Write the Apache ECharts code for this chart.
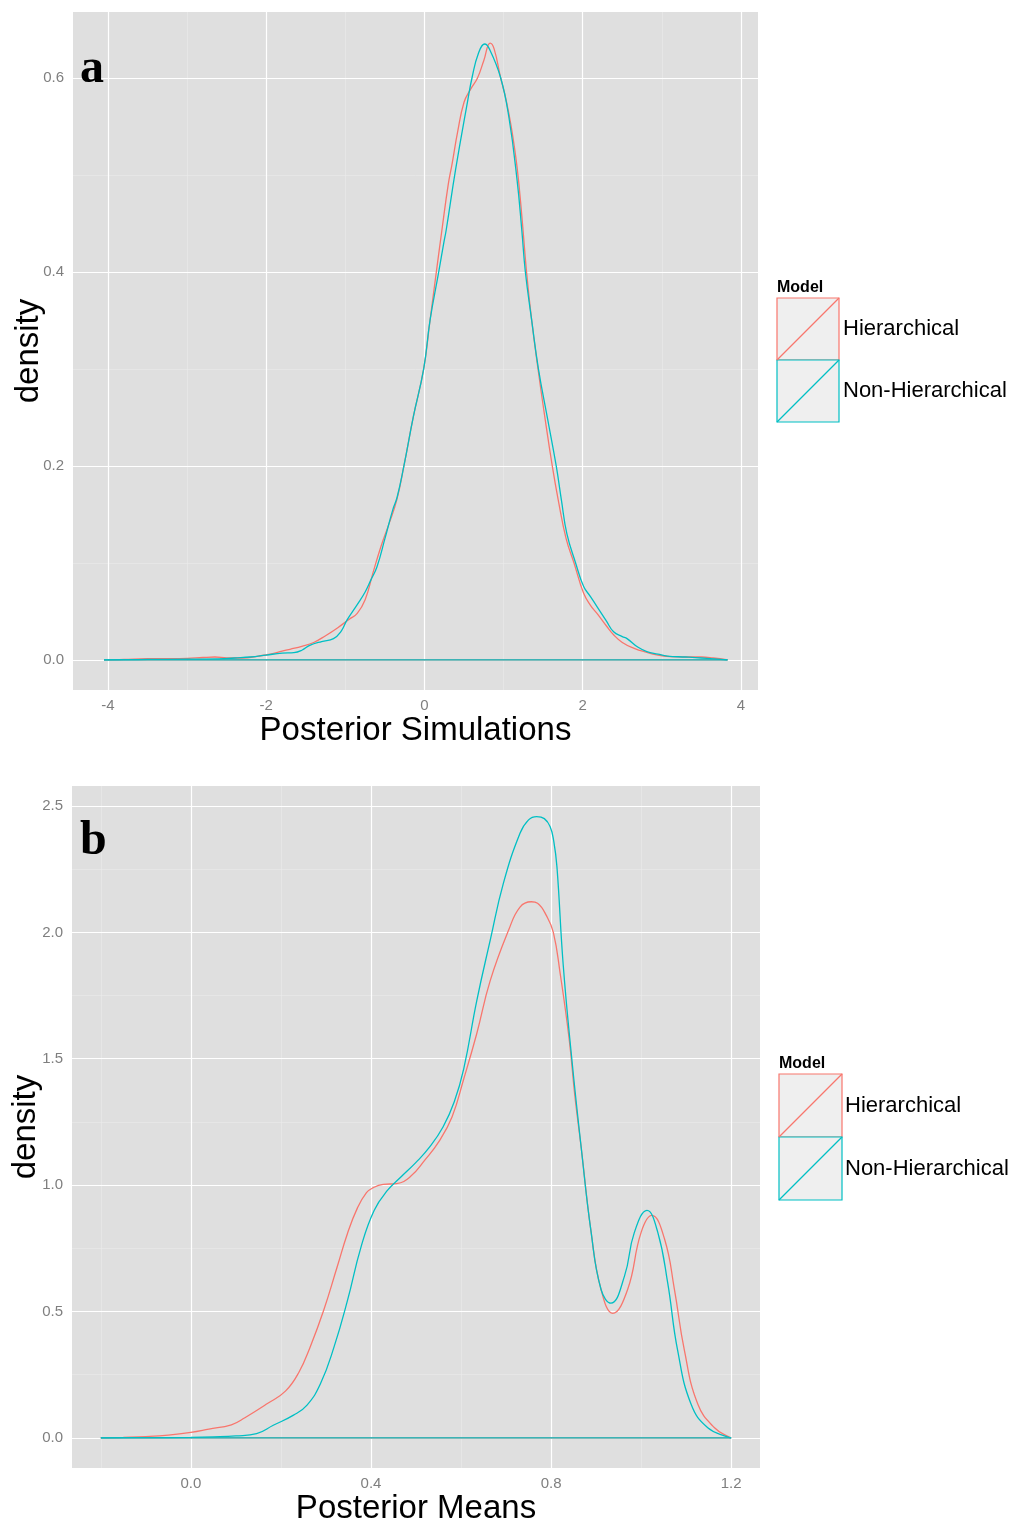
<!DOCTYPE html>
<html>
<head>
<meta charset="utf-8">
<script src="https://cdn.jsdelivr.net/npm/echarts@6/dist/echarts.min.js"></script>
<style>
html,body{margin:0;padding:0;background:#fff;}
#chart{width:1013px;height:1523px;}
</style>
</head>
<body>
<div id="chart"></div>
<script>
// ---------- DATA ----------
const models = ['Hierarchical', 'Non-Hierarchical'];
const modelColors = ['#F8766D', '#00BFC4'];

// Panel a: Posterior Simulations  [x, density]
const simHier = [[-4.05,0],[-3.8,0.0005],[-3.5,0.0012],[-3.2,0.0012],[-3.0,0.0015],[-2.8,0.0025],[-2.65,0.003],[-2.5,0.0022],[-2.3,0.002],[-2.1,0.004],[-1.95,0.006],[-1.8,0.009],[-1.7,0.011],[-1.55,0.014],[-1.4,0.018],[-1.25,0.025],[-1.1,0.033],[-0.95,0.042],[-0.85,0.048],[-0.75,0.062],[-0.65,0.09],[-0.55,0.117],[-0.45,0.14],[-0.35,0.165],[-0.26,0.2],[-0.14,0.251],[-0.01,0.3],[0.07,0.35],[0.15,0.4],[0.22,0.443],[0.3,0.49],[0.35,0.512],[0.42,0.545],[0.5,0.575],[0.58,0.588],[0.67,0.6],[0.75,0.618],[0.83,0.636],[0.88,0.63],[0.96,0.601],[1.03,0.578],[1.1,0.548],[1.17,0.508],[1.23,0.458],[1.29,0.4],[1.355,0.35],[1.435,0.3],[1.52,0.251],[1.615,0.2],[1.69,0.165],[1.79,0.125],[1.89,0.1],[2.01,0.069],[2.1,0.056],[2.18,0.048],[2.3,0.035],[2.39,0.026],[2.5,0.018],[2.65,0.012],[2.8,0.008],[2.95,0.005],[3.1,0.0035],[3.3,0.003],[3.5,0.003],[3.65,0.002],[3.83,0]];
const simNonHier = [[-4.05,0],[-3.5,0.0005],[-3.0,0.0008],[-2.6,0.001],[-2.4,0.002],[-2.2,0.003],[-2.0,0.005],[-1.8,0.007],[-1.65,0.0075],[-1.55,0.01],[-1.45,0.015],[-1.3,0.019],[-1.15,0.022],[-1.05,0.03],[-0.98,0.041],[-0.85,0.057],[-0.75,0.07],[-0.68,0.082],[-0.6,0.096],[-0.5,0.125],[-0.4,0.155],[-0.345,0.168],[-0.26,0.2],[-0.14,0.251],[-0.01,0.3],[0.07,0.35],[0.18,0.4],[0.244,0.43],[0.274,0.443],[0.392,0.505],[0.547,0.577],[0.603,0.601],[0.68,0.625],[0.76,0.635],[0.82,0.63],[0.96,0.601],[1.066,0.56],[1.17,0.495],[1.23,0.443],[1.275,0.4],[1.355,0.35],[1.44,0.3],[1.55,0.251],[1.665,0.2],[1.73,0.165],[1.8,0.13],[1.91,0.1],[2.01,0.076],[2.1,0.065],[2.18,0.055],[2.3,0.04],[2.39,0.029],[2.5,0.024],[2.56,0.022],[2.7,0.013],[2.81,0.0086],[2.95,0.006],[3.07,0.004],[3.3,0.003],[3.5,0.002],[3.83,0]];

// Panel b: Posterior Means  [x, density]
const meanHier = [[-0.2,0],[-0.15,0.002],[-0.1,0.005],[-0.05,0.011],[0.0,0.022],[0.04,0.035],[0.09,0.052],[0.12,0.08],[0.17,0.136],[0.21,0.185],[0.24,0.26],[0.265,0.36],[0.295,0.505],[0.325,0.677],[0.348,0.81],[0.37,0.91],[0.39,0.97],[0.405,0.99],[0.427,1.003],[0.457,1.006],[0.487,1.033],[0.52,1.1],[0.55,1.17],[0.58,1.27],[0.606,1.42],[0.635,1.60],[0.665,1.81],[0.706,2.01],[0.731,2.10],[0.756,2.121],[0.77,2.115],[0.79,2.065],[0.805,2.0],[0.82,1.84],[0.84,1.58],[0.853,1.35],[0.867,1.147],[0.889,0.813],[0.911,0.587],[0.937,0.493],[0.97,0.587],[1.0,0.813],[1.024,0.88],[1.052,0.787],[1.074,0.587],[1.096,0.347],[1.126,0.133],[1.163,0.04],[1.196,0.003],[1.2,0]];
const meanNonHier = [[-0.2,0],[-0.1,0.001],[0.0,0.002],[0.05,0.004],[0.1,0.008],[0.146,0.017],[0.183,0.05],[0.228,0.09],[0.258,0.13],[0.288,0.215],[0.318,0.36],[0.348,0.545],[0.378,0.756],[0.407,0.90],[0.437,0.98],[0.467,1.033],[0.5,1.09],[0.53,1.15],[0.56,1.23],[0.585,1.33],[0.606,1.46],[0.635,1.73],[0.665,1.97],[0.694,2.194],[0.731,2.392],[0.75,2.445],[0.768,2.458],[0.785,2.45],[0.798,2.418],[0.806,2.36],[0.813,2.26],[0.827,1.87],[0.846,1.50],[0.867,1.147],[0.889,0.813],[0.911,0.587],[0.933,0.533],[0.963,0.64],[0.985,0.813],[1.013,0.9],[1.037,0.813],[1.059,0.613],[1.081,0.347],[1.111,0.133],[1.148,0.04],[1.193,0.003],[1.2,0]];

// Ticks
const aXTicks = [-4, -2, 0, 2, 4];
const aXTickLabels = ['-4', '-2', '0', '2', '4'];
const aXMinor = [-3, -1, 1, 3];
const aYTicks = [0, 0.2, 0.4, 0.6];
const aYTickLabels = ['0.0', '0.2', '0.4', '0.6'];
const aYMinor = [0.1, 0.3, 0.5];
const bXTicks = [0, 0.4, 0.8, 1.2];
const bXTickLabels = ['0.0', '0.4', '0.8', '1.2'];
const bXMinor = [-0.2, 0.2, 0.6, 1.0];
const bYTicks = [0, 0.5, 1.0, 1.5, 2.0, 2.5];
const bYTickLabels = ['0.0', '0.5', '1.0', '1.5', '2.0', '2.5'];
const bYMinor = [0.25, 0.75, 1.25, 1.75, 2.25];

// ---------- CHART ----------
const chart = echarts.init(document.getElementById('chart'), null, {renderer: 'canvas'});
const PANEL_BG = '#DFDFDF';
const LABEL_COLOR = '#7F7F7F';
const FONT = '"Liberation Sans", Arial, sans-serif';

function labelFmt(ticks, labels) {
  return function (v) {
    for (let i = 0; i < ticks.length; i++) if (Math.abs(ticks[i] - v) < 1e-9) return labels[i];
    return '';
  };
}
function xAxisDef(idx, min, max, ticks, labels, name) {
  return {
    type: 'value', gridIndex: idx, min: min, max: max,
    name: name, nameLocation: 'middle', nameGap: 24, nameMoveOverlap: false,
    nameTextStyle: {fontSize: 33, color: '#000', fontFamily: FONT},
    axisLine: {show: false},
    axisTick: {show: true, customValues: ticks, length: 4, lineStyle: {color: '#888', width: 1}},
    axisLabel: {customValues: ticks, formatter: labelFmt(ticks, labels), color: LABEL_COLOR, fontSize: 15, fontFamily: FONT, margin: 8},
    splitLine: {show: false}
  };
}
function yAxisDef(idx, min, max, ticks, labels, gap) {
  return {
    type: 'value', gridIndex: idx, min: min, max: max,
    name: 'density', nameLocation: 'middle', nameGap: gap, nameRotate: 90, nameMoveOverlap: false,
    nameTextStyle: {fontSize: 33, color: '#000', fontFamily: FONT},
    axisLine: {show: false},
    axisTick: {show: true, customValues: ticks, length: 4, lineStyle: {color: '#888', width: 1}},
    axisLabel: {customValues: ticks, formatter: labelFmt(ticks, labels), color: LABEL_COLOR, fontSize: 15, fontFamily: FONT, margin: 9},
    splitLine: {show: false}
  };
}
function gridLines(idx, xMaj, xMin, yMaj, yMin) {
  const data = [];
  xMin.forEach(v => data.push({xAxis: v, lineStyle: {color: '#EBEBEB', width: 0.6, type: 'solid'}}));
  yMin.forEach(v => data.push({yAxis: v, lineStyle: {color: '#EBEBEB', width: 0.6, type: 'solid'}}));
  xMaj.forEach(v => data.push({xAxis: v, lineStyle: {color: '#FFFFFF', width: 1.2, type: 'solid'}}));
  yMaj.forEach(v => data.push({yAxis: v, lineStyle: {color: '#FFFFFF', width: 1.2, type: 'solid'}}));
  return {
    type: 'line', xAxisIndex: idx, yAxisIndex: idx, data: [], z: 1, silent: true,
    markLine: {silent: true, symbol: ['none', 'none'], z: 1, label: {show: false}, animation: false, data: data}
  };
}
function curve(idx, pts, color, z) {
  return {
    type: 'line', xAxisIndex: idx, yAxisIndex: idx, data: pts, showSymbol: false, symbol: 'none',
    smooth: 0.45, z: z, silent: true, animation: false,
    lineStyle: {color: color, width: 1.3}
  };
}
function baseline(idx, pts, color, z) {
  return {
    type: 'line', xAxisIndex: idx, yAxisIndex: idx,
    data: [[pts[0][0], 0], [pts[pts.length - 1][0], 0]],
    showSymbol: false, symbol: 'none', z: z, silent: true, animation: false,
    lineStyle: {color: color, width: 1.3}
  };
}

function legendGraphics(x, yTitle, yBox, w, h, labelX) {
  const g = [{type: 'text', left: x, top: yTitle - 9, style: {text: 'Model', font: 'bold 16px ' + FONT, fill: '#000'}}];
  models.forEach((m, i) => {
    const y0 = yBox + i * h;
    g.push({type: 'rect', shape: {x: x, y: y0, width: w, height: h}, style: {fill: '#EFEFEF', stroke: modelColors[i], lineWidth: 1.2}, z: 10});
    g.push({type: 'line', shape: {x1: x, y1: y0 + h, x2: x + w, y2: y0}, style: {stroke: modelColors[i], lineWidth: 1.3}, z: 11});
    g.push({type: 'text', x: labelX, y: y0 + h / 2, style: {text: m, font: '22px ' + FONT, fill: '#000', textVerticalAlign: 'middle', verticalAlign: 'middle'}, z: 11});
  });
  return g;
}

const option = {
  backgroundColor: '#FFFFFF',
  animation: false,
  grid: [
    {left: 73, top: 12, width: 685, height: 678, show: true, backgroundColor: PANEL_BG, borderWidth: 0, containLabel: false, outerBoundsMode: 'none'},
    {left: 72, top: 786, width: 688, height: 682, show: true, backgroundColor: PANEL_BG, borderWidth: 0, containLabel: false, outerBoundsMode: 'none'}
  ],
  xAxis: [
    xAxisDef(0, -4.442, 4.215, aXTicks, aXTickLabels, 'Posterior Simulations'),
    xAxisDef(1, -0.264, 1.264, bXTicks, bXTickLabels, 'Posterior Means')
  ],
  yAxis: [
    yAxisDef(0, -0.031, 0.668, aYTicks, aYTickLabels, 28),
    yAxisDef(1, -0.119, 2.579, bYTicks, bYTickLabels, 30)
  ],
  series: [
    gridLines(0, aXTicks, aXMinor, aYTicks, aYMinor),
    gridLines(1, bXTicks, bXMinor, bYTicks, bYMinor),
    baseline(0, simHier, modelColors[0], 3),
    curve(0, simHier, modelColors[0], 3),
    baseline(0, simNonHier, modelColors[1], 4),
    curve(0, simNonHier, modelColors[1], 4),
    baseline(1, meanHier, modelColors[0], 3),
    curve(1, meanHier, modelColors[0], 3),
    baseline(1, meanNonHier, modelColors[1], 4),
    curve(1, meanNonHier, modelColors[1], 4)
  ],
  graphic: [
    {type: 'text', x: 80, y: 70, style: {text: 'a', font: 'bold 48px "Liberation Serif", "DejaVu Serif", serif', fill: '#000', textVerticalAlign: 'middle', verticalAlign: 'middle'}, z: 20},
    {type: 'text', x: 80, y: 842, style: {text: 'b', font: 'bold 48px "Liberation Serif", "DejaVu Serif", serif', fill: '#000', textVerticalAlign: 'middle', verticalAlign: 'middle'}, z: 20}
  ].concat(legendGraphics(777, 289, 298, 62, 62, 843))
   .concat(legendGraphics(779, 1065, 1074, 63, 63, 845))
};
chart.setOption(option);
</script>
</body>
</html>
